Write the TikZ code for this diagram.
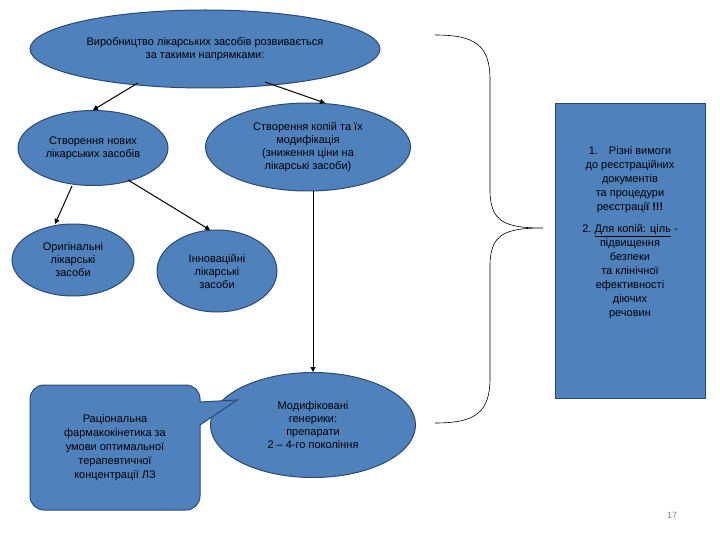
\documentclass[tikz,border=0pt]{standalone}
\usepackage{fontspec}
\setmainfont{Liberation Sans}
\usetikzlibrary{shapes.geometric,arrows.meta}
\definecolor{fillb}{HTML}{4F81BD}
\definecolor{edgeb}{HTML}{2C4A70}
\begin{document}
\begin{tikzpicture}[x=1pt,y=-1pt,
  el/.style={ellipse,draw=edgeb,line width=1pt,fill=fillb,inner sep=0pt,align=center,font=\fontsize{11}{13}\selectfont},
  arr/.style={-{Triangle[length=5pt,width=5pt]},line width=1pt}]
\useasboundingbox (0,0) rectangle (720,540);
\fill[white] (0,0) rectangle (720,540);
\node[el,minimum width=350,minimum height=78] (top) at (205,49) {Виробництво лікарських засобів розвивається\\за такими напрямками:};
\node[el,minimum width=150,minimum height=75] (new) at (93,148) {Створення нових\\лікарських засобів};
\node[el,minimum width=205,minimum height=88] (cop) at (308,147) {Створення копій та їх\\модифікація\\(зниження ціни на\\лікарські засоби)};
\node[el,minimum width=122,minimum height=72] (orig) at (73,260) {Оригінальні\\лікарські\\засоби};
\node[el,minimum width=120,minimum height=82] (inn) at (217,271) {Інноваційні\\лікарські\\засоби};
\node[el,minimum width=205,minimum height=105] (mod) at (313,425) {Модифіковані\\генерики:\\препарати\\2 – 4-го покоління};
\draw[fill=fillb,draw=edgeb,line width=1pt,rounded corners=14pt] (30,385) -- (200,385) [sharp corners]-- (200,402) -- (237,400) -- (200,425) [rounded corners=14pt]-- (200,510) -- (30,510) -- cycle;
\node[align=center,font=\fontsize{11}{14}\selectfont] (call) at (115,448) {Раціональна\\фармакокінетика за\\умови оптимальної\\терапевтичної\\концентрації ЛЗ};
\coordinate (a1) at (138,83); \coordinate (a2) at (265,82);
\coordinate (b1) at (72,186); \coordinate (b2) at (128,180);
\coordinate (c1) at (313,191);
\draw[arr] (a1) -- (93,110) coordinate (t1);
\draw[arr] (a2) -- (325,103);
\draw[arr] (b1) -- (55,224);
\draw[arr] (b2) -- (210,230);
\draw[arr] (c1) -- (mod.north);
\draw[line width=0.6pt] (435,35) .. controls (475,35) and (490,45) .. (490,80) -- (490,190) .. controls (490,222) and (505,228) .. (543,228) coordinate (tip)
  (435,423) .. controls (475,423) and (490,413) .. (490,378) -- (490,266) .. controls (490,234) and (505,228) .. (543,228);
\node[draw=edgeb,line width=1pt,fill=fillb,minimum width=150,minimum height=295,anchor=north west] (box) at (555,103) {};
\node[align=center,font=\fontsize{11}{14}\selectfont,anchor=north] (boxt) at (630,143) {1.\quad Різні вимоги\\до реєстраційних\\документів\\та процедури\\реєстраці\textbf{ї !!!}\\[8pt]2.\ \underline{Для копій: ціль} -\\підвищення\\безпеки\\та клінічної\\ефективності\\діючих\\речовин};
\node[font=\fontsize{9}{10}\selectfont,text=gray] (pg) at (672,515) {17};
\end{tikzpicture}
\end{document}
